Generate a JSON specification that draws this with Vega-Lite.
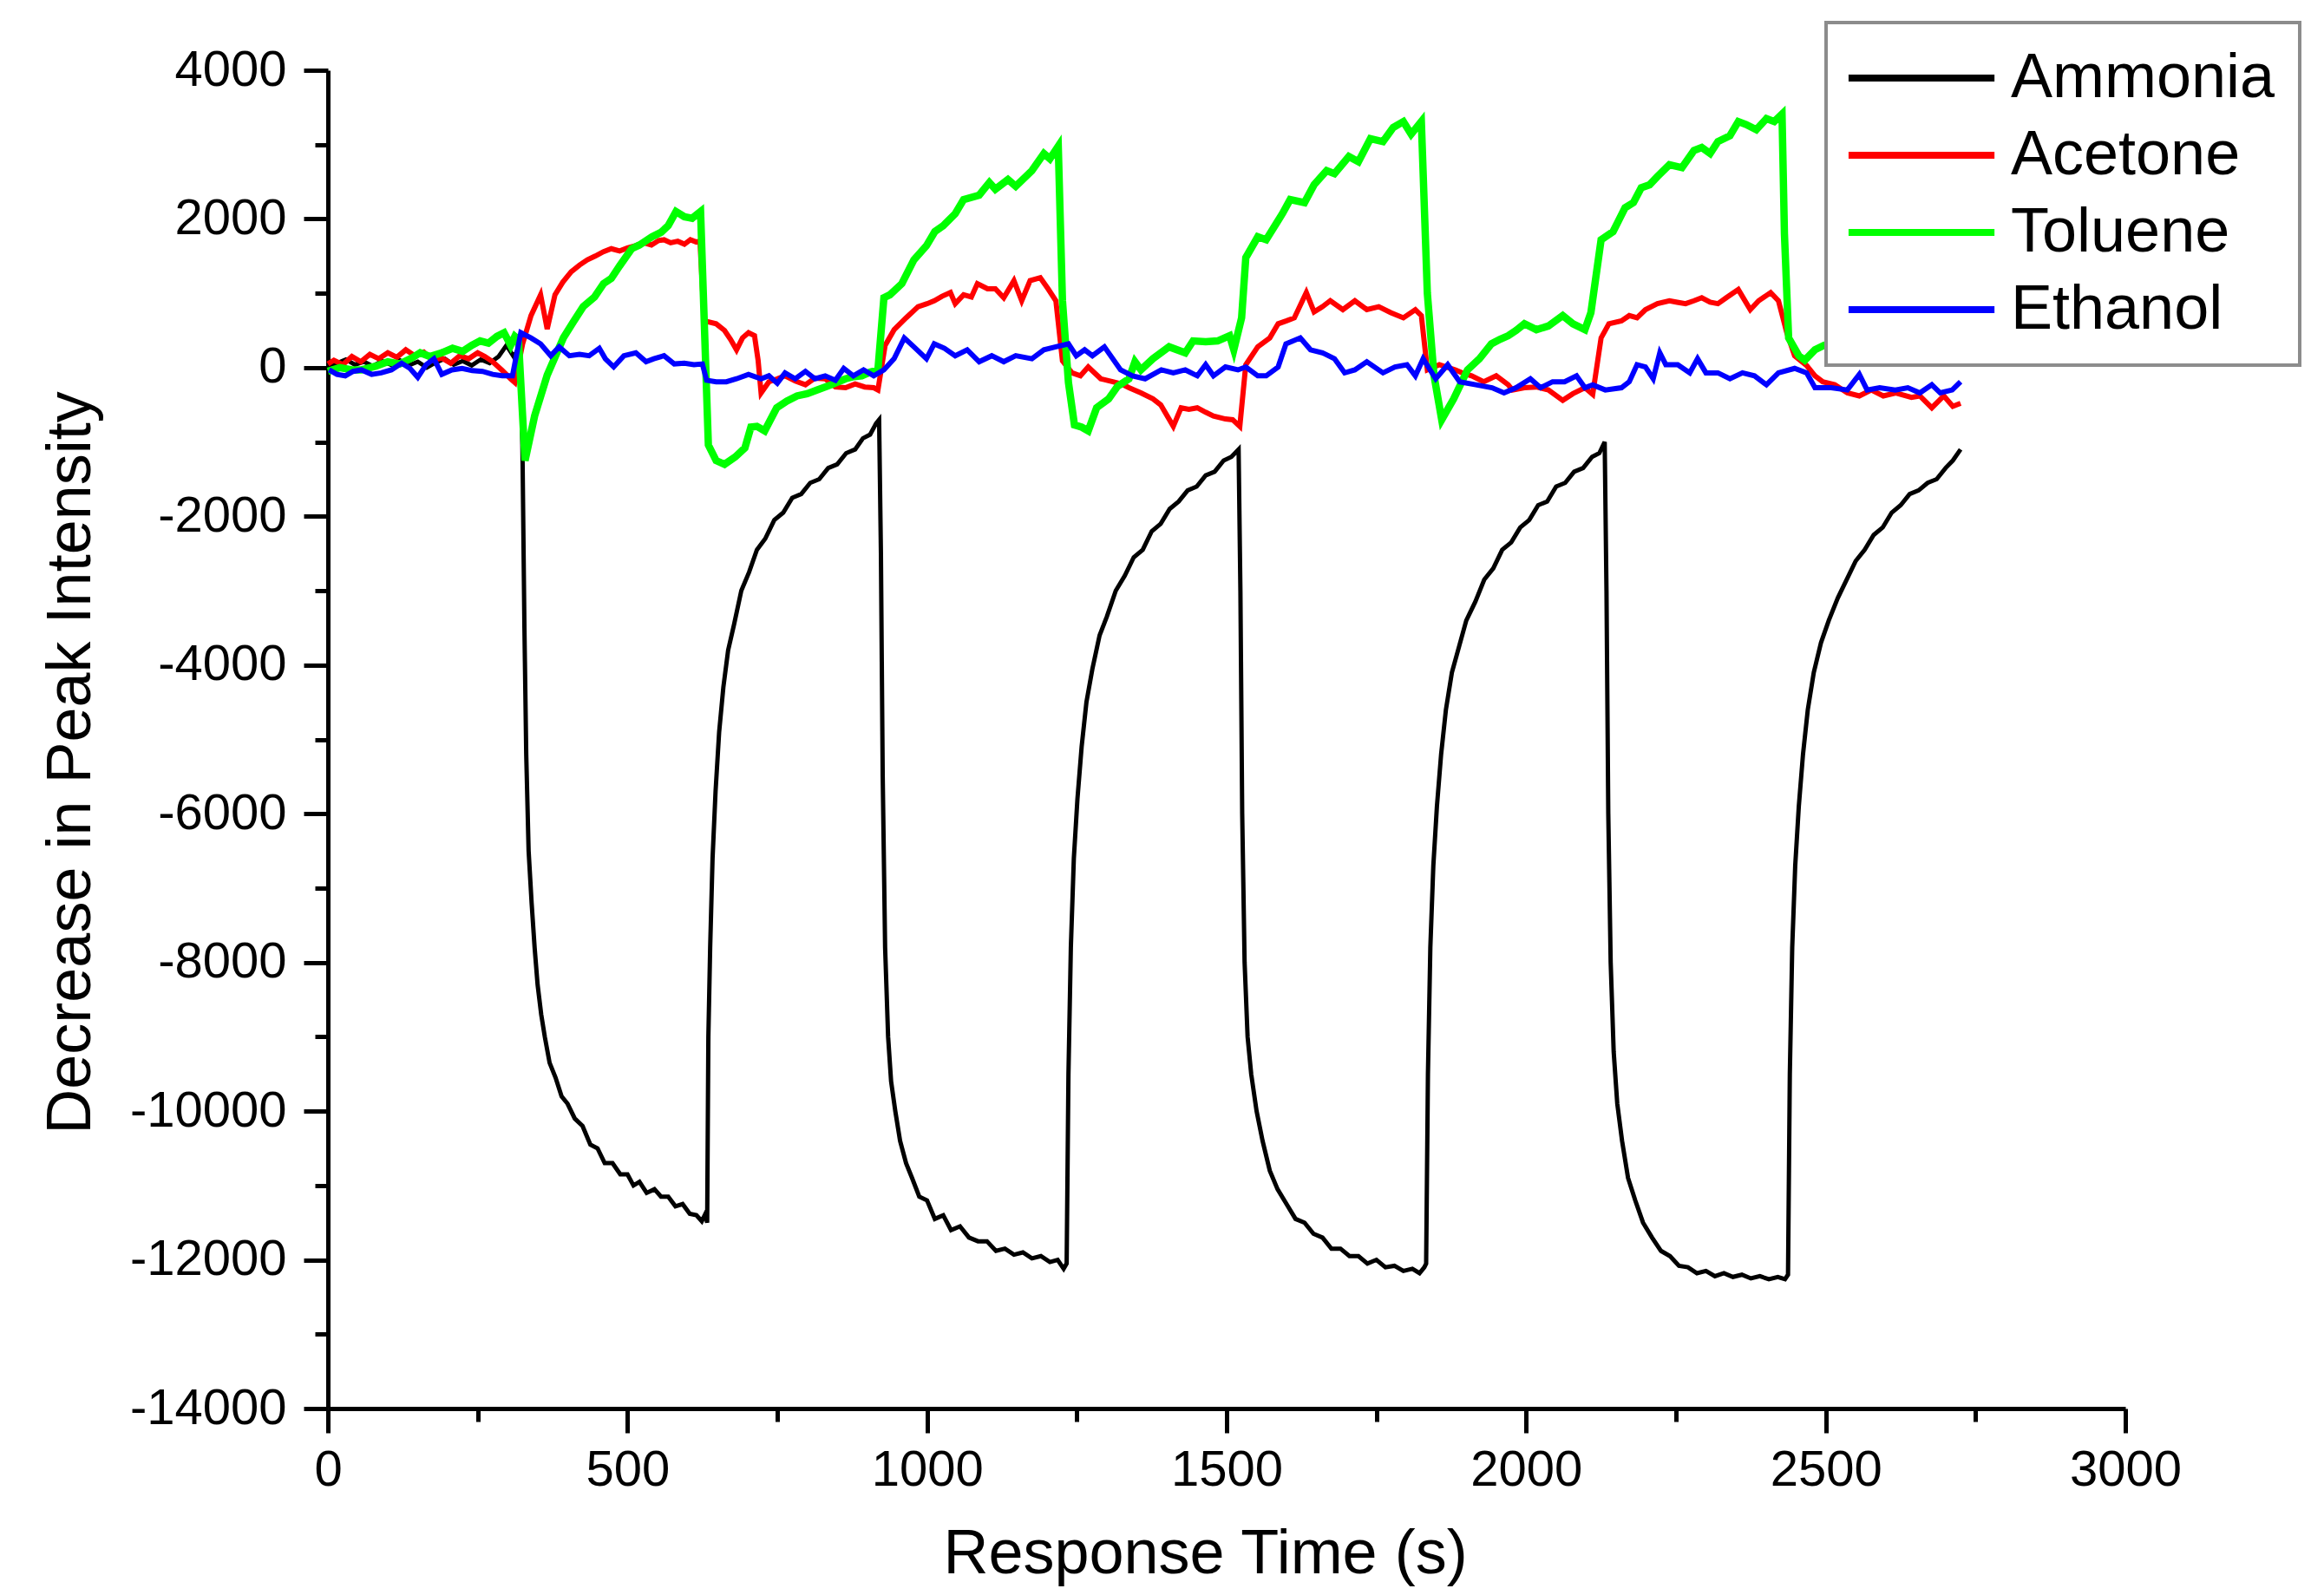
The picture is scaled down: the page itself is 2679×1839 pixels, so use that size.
{
  "$schema": "https://vega.github.io/schema/vega-lite/v6.json",
  "width": 2072,
  "height": 1543,
  "autosize": {"type": "none"},
  "padding": {"left": 378, "top": 81, "right": 229, "bottom": 215},
  "background": "white",
  "config": {
    "view": {"stroke": null},
    "font": "Liberation Sans",
    "axis": {
      "grid": false,
      "domainColor": "black",
      "domainWidth": 5,
      "tickColor": "black",
      "tickWidth": 5,
      "labelFont": "Liberation Sans",
      "labelFontSize": 58,
      "labelColor": "black",
      "labelFlush": false,
      "labelLimit": 0,
      "titleFont": "Liberation Sans",
      "titleFontSize": 72,
      "titleFontWeight": "normal",
      "titleColor": "black"
    },
    "legend": {"strokeWidth": 4}
  },
  "data": {
    "values": [
      {"s":"Ammonia","t":0,"v":30},{"s":"Ammonia","t":15,"v":60},{"s":"Ammonia","t":30,"v":110},{"s":"Ammonia","t":45,"v":40},{"s":"Ammonia","t":60,"v":80},{"s":"Ammonia","t":75,"v":20},{"s":"Ammonia","t":90,"v":90},{"s":"Ammonia","t":105,"v":40},{"s":"Ammonia","t":120,"v":100},{"s":"Ammonia","t":135,"v":30},{"s":"Ammonia","t":150,"v":80},{"s":"Ammonia","t":165,"v":0},{"s":"Ammonia","t":180,"v":70},{"s":"Ammonia","t":195,"v":120},{"s":"Ammonia","t":210,"v":40},{"s":"Ammonia","t":225,"v":90},{"s":"Ammonia","t":240,"v":30},{"s":"Ammonia","t":255,"v":110},{"s":"Ammonia","t":270,"v":60},{"s":"Ammonia","t":285,"v":150},{"s":"Ammonia","t":298,"v":300},{"s":"Ammonia","t":310,"v":150},{"s":"Ammonia","t":318,"v":250},{"s":"Ammonia","t":323,"v":-200},
      {"s":"Ammonia","t":325,"v":-1300},{"s":"Ammonia","t":328,"v":-3500},{"s":"Ammonia","t":331,"v":-5200},{"s":"Ammonia","t":335,"v":-6500},{"s":"Ammonia","t":340,"v":-7200},{"s":"Ammonia","t":345,"v":-7800},{"s":"Ammonia","t":350,"v":-8300},{"s":"Ammonia","t":356,"v":-8700},{"s":"Ammonia","t":362,"v":-9000},{"s":"Ammonia","t":370,"v":-9350},{"s":"Ammonia","t":380,"v":-9550},{"s":"Ammonia","t":390,"v":-9800},{"s":"Ammonia","t":400,"v":-9900},{"s":"Ammonia","t":412,"v":-10100},{"s":"Ammonia","t":425,"v":-10200},{"s":"Ammonia","t":438,"v":-10450},{"s":"Ammonia","t":450,"v":-10500},{"s":"Ammonia","t":462,"v":-10700},{"s":"Ammonia","t":475,"v":-10700},{"s":"Ammonia","t":488,"v":-10850},{"s":"Ammonia","t":500,"v":-10850},{"s":"Ammonia","t":510,"v":-11000},{"s":"Ammonia","t":520,"v":-10950},{"s":"Ammonia","t":532,"v":-11100},{"s":"Ammonia","t":545,"v":-11050},{"s":"Ammonia","t":556,"v":-11150},{"s":"Ammonia","t":568,"v":-11150},{"s":"Ammonia","t":580,"v":-11280},{"s":"Ammonia","t":592,"v":-11250},{"s":"Ammonia","t":604,"v":-11380},{"s":"Ammonia","t":615,"v":-11400},{"s":"Ammonia","t":624,"v":-11480},{"s":"Ammonia","t":630,"v":-11380},{"s":"Ammonia","t":633,"v":-11500},
      {"s":"Ammonia","t":635,"v":-9000},{"s":"Ammonia","t":638,"v":-7800},{"s":"Ammonia","t":642,"v":-6600},{"s":"Ammonia","t":647,"v":-5700},{"s":"Ammonia","t":653,"v":-4900},{"s":"Ammonia","t":660,"v":-4300},{"s":"Ammonia","t":668,"v":-3800},{"s":"Ammonia","t":678,"v":-3450},{"s":"Ammonia","t":690,"v":-3000},{"s":"Ammonia","t":703,"v":-2750},{"s":"Ammonia","t":716,"v":-2450},{"s":"Ammonia","t":730,"v":-2300},{"s":"Ammonia","t":745,"v":-2050},{"s":"Ammonia","t":760,"v":-1950},{"s":"Ammonia","t":775,"v":-1750},{"s":"Ammonia","t":790,"v":-1700},{"s":"Ammonia","t":805,"v":-1550},{"s":"Ammonia","t":820,"v":-1500},{"s":"Ammonia","t":835,"v":-1350},{"s":"Ammonia","t":850,"v":-1300},{"s":"Ammonia","t":865,"v":-1150},{"s":"Ammonia","t":880,"v":-1100},{"s":"Ammonia","t":893,"v":-950},{"s":"Ammonia","t":905,"v":-900},{"s":"Ammonia","t":915,"v":-750},{"s":"Ammonia","t":920,"v":-700},
      {"s":"Ammonia","t":923,"v":-2500},{"s":"Ammonia","t":926,"v":-5500},{"s":"Ammonia","t":930,"v":-7800},{"s":"Ammonia","t":935,"v":-9000},{"s":"Ammonia","t":940,"v":-9600},{"s":"Ammonia","t":947,"v":-10000},{"s":"Ammonia","t":955,"v":-10400},{"s":"Ammonia","t":965,"v":-10700},{"s":"Ammonia","t":975,"v":-10900},{"s":"Ammonia","t":987,"v":-11150},{"s":"Ammonia","t":1000,"v":-11200},{"s":"Ammonia","t":1013,"v":-11450},{"s":"Ammonia","t":1027,"v":-11400},{"s":"Ammonia","t":1040,"v":-11600},{"s":"Ammonia","t":1055,"v":-11550},{"s":"Ammonia","t":1070,"v":-11700},{"s":"Ammonia","t":1085,"v":-11750},{"s":"Ammonia","t":1100,"v":-11750},{"s":"Ammonia","t":1115,"v":-11880},{"s":"Ammonia","t":1130,"v":-11850},{"s":"Ammonia","t":1145,"v":-11930},{"s":"Ammonia","t":1160,"v":-11900},{"s":"Ammonia","t":1175,"v":-11980},{"s":"Ammonia","t":1190,"v":-11950},{"s":"Ammonia","t":1205,"v":-12030},{"s":"Ammonia","t":1218,"v":-12000},{"s":"Ammonia","t":1228,"v":-12120},{"s":"Ammonia","t":1233,"v":-12050},
      {"s":"Ammonia","t":1236,"v":-9500},{"s":"Ammonia","t":1240,"v":-7800},{"s":"Ammonia","t":1245,"v":-6600},{"s":"Ammonia","t":1251,"v":-5800},{"s":"Ammonia","t":1258,"v":-5100},{"s":"Ammonia","t":1266,"v":-4500},{"s":"Ammonia","t":1276,"v":-4050},{"s":"Ammonia","t":1288,"v":-3600},{"s":"Ammonia","t":1300,"v":-3350},{"s":"Ammonia","t":1315,"v":-3000},{"s":"Ammonia","t":1330,"v":-2800},{"s":"Ammonia","t":1345,"v":-2550},{"s":"Ammonia","t":1360,"v":-2450},{"s":"Ammonia","t":1375,"v":-2200},{"s":"Ammonia","t":1390,"v":-2100},{"s":"Ammonia","t":1405,"v":-1900},{"s":"Ammonia","t":1420,"v":-1800},{"s":"Ammonia","t":1435,"v":-1650},{"s":"Ammonia","t":1450,"v":-1600},{"s":"Ammonia","t":1465,"v":-1450},{"s":"Ammonia","t":1480,"v":-1400},{"s":"Ammonia","t":1495,"v":-1250},{"s":"Ammonia","t":1508,"v":-1200},{"s":"Ammonia","t":1520,"v":-1100},
      {"s":"Ammonia","t":1523,"v":-3000},{"s":"Ammonia","t":1526,"v":-6000},{"s":"Ammonia","t":1530,"v":-8000},{"s":"Ammonia","t":1535,"v":-9000},{"s":"Ammonia","t":1541,"v":-9500},{"s":"Ammonia","t":1550,"v":-10000},{"s":"Ammonia","t":1560,"v":-10400},{"s":"Ammonia","t":1572,"v":-10800},{"s":"Ammonia","t":1585,"v":-11050},{"s":"Ammonia","t":1600,"v":-11250},{"s":"Ammonia","t":1615,"v":-11450},{"s":"Ammonia","t":1630,"v":-11500},{"s":"Ammonia","t":1645,"v":-11650},{"s":"Ammonia","t":1660,"v":-11700},{"s":"Ammonia","t":1675,"v":-11850},{"s":"Ammonia","t":1690,"v":-11850},{"s":"Ammonia","t":1705,"v":-11950},{"s":"Ammonia","t":1720,"v":-11950},{"s":"Ammonia","t":1735,"v":-12050},{"s":"Ammonia","t":1750,"v":-12000},{"s":"Ammonia","t":1765,"v":-12100},{"s":"Ammonia","t":1780,"v":-12080},{"s":"Ammonia","t":1795,"v":-12150},{"s":"Ammonia","t":1810,"v":-12120},{"s":"Ammonia","t":1822,"v":-12180},{"s":"Ammonia","t":1830,"v":-12100},{"s":"Ammonia","t":1833,"v":-12050},
      {"s":"Ammonia","t":1836,"v":-9500},{"s":"Ammonia","t":1840,"v":-7800},{"s":"Ammonia","t":1845,"v":-6700},{"s":"Ammonia","t":1851,"v":-5900},{"s":"Ammonia","t":1858,"v":-5200},{"s":"Ammonia","t":1866,"v":-4600},{"s":"Ammonia","t":1876,"v":-4100},{"s":"Ammonia","t":1888,"v":-3750},{"s":"Ammonia","t":1900,"v":-3400},{"s":"Ammonia","t":1915,"v":-3150},{"s":"Ammonia","t":1930,"v":-2850},{"s":"Ammonia","t":1945,"v":-2700},{"s":"Ammonia","t":1960,"v":-2450},{"s":"Ammonia","t":1975,"v":-2350},{"s":"Ammonia","t":1990,"v":-2150},{"s":"Ammonia","t":2005,"v":-2050},{"s":"Ammonia","t":2020,"v":-1850},{"s":"Ammonia","t":2035,"v":-1800},{"s":"Ammonia","t":2050,"v":-1600},{"s":"Ammonia","t":2065,"v":-1550},{"s":"Ammonia","t":2080,"v":-1400},{"s":"Ammonia","t":2095,"v":-1350},{"s":"Ammonia","t":2110,"v":-1200},{"s":"Ammonia","t":2122,"v":-1150},{"s":"Ammonia","t":2131,"v":-1000},
      {"s":"Ammonia","t":2134,"v":-3000},{"s":"Ammonia","t":2137,"v":-6000},{"s":"Ammonia","t":2141,"v":-8000},{"s":"Ammonia","t":2146,"v":-9200},{"s":"Ammonia","t":2152,"v":-9900},{"s":"Ammonia","t":2160,"v":-10400},{"s":"Ammonia","t":2170,"v":-10900},{"s":"Ammonia","t":2182,"v":-11200},{"s":"Ammonia","t":2195,"v":-11500},{"s":"Ammonia","t":2210,"v":-11700},{"s":"Ammonia","t":2225,"v":-11880},{"s":"Ammonia","t":2240,"v":-11950},{"s":"Ammonia","t":2255,"v":-12080},{"s":"Ammonia","t":2270,"v":-12100},{"s":"Ammonia","t":2285,"v":-12180},{"s":"Ammonia","t":2300,"v":-12150},{"s":"Ammonia","t":2315,"v":-12220},{"s":"Ammonia","t":2330,"v":-12180},{"s":"Ammonia","t":2345,"v":-12230},{"s":"Ammonia","t":2360,"v":-12200},{"s":"Ammonia","t":2375,"v":-12250},{"s":"Ammonia","t":2390,"v":-12220},{"s":"Ammonia","t":2405,"v":-12260},{"s":"Ammonia","t":2420,"v":-12230},{"s":"Ammonia","t":2432,"v":-12260},{"s":"Ammonia","t":2437,"v":-12200},
      {"s":"Ammonia","t":2440,"v":-9500},{"s":"Ammonia","t":2444,"v":-7800},{"s":"Ammonia","t":2449,"v":-6700},{"s":"Ammonia","t":2455,"v":-5900},{"s":"Ammonia","t":2462,"v":-5200},{"s":"Ammonia","t":2470,"v":-4600},{"s":"Ammonia","t":2480,"v":-4100},{"s":"Ammonia","t":2492,"v":-3700},{"s":"Ammonia","t":2505,"v":-3400},{"s":"Ammonia","t":2520,"v":-3100},{"s":"Ammonia","t":2535,"v":-2850},{"s":"Ammonia","t":2550,"v":-2600},{"s":"Ammonia","t":2565,"v":-2450},{"s":"Ammonia","t":2580,"v":-2250},{"s":"Ammonia","t":2595,"v":-2150},{"s":"Ammonia","t":2610,"v":-1950},{"s":"Ammonia","t":2625,"v":-1850},{"s":"Ammonia","t":2640,"v":-1700},{"s":"Ammonia","t":2655,"v":-1650},{"s":"Ammonia","t":2670,"v":-1550},{"s":"Ammonia","t":2685,"v":-1500},{"s":"Ammonia","t":2700,"v":-1350},{"s":"Ammonia","t":2712,"v":-1250},{"s":"Ammonia","t":2725,"v":-1100},

      {"s":"Acetone","t":0,"v":50},{"s":"Acetone","t":10,"v":100},{"s":"Acetone","t":25,"v":40},{"s":"Acetone","t":40,"v":150},{"s":"Acetone","t":55,"v":80},{"s":"Acetone","t":70,"v":180},{"s":"Acetone","t":85,"v":120},{"s":"Acetone","t":100,"v":200},{"s":"Acetone","t":115,"v":140},{"s":"Acetone","t":130,"v":240},{"s":"Acetone","t":145,"v":160},{"s":"Acetone","t":160,"v":210},{"s":"Acetone","t":175,"v":100},{"s":"Acetone","t":190,"v":130},{"s":"Acetone","t":205,"v":60},{"s":"Acetone","t":220,"v":160},{"s":"Acetone","t":235,"v":120},{"s":"Acetone","t":250,"v":200},{"s":"Acetone","t":262,"v":150},{"s":"Acetone","t":275,"v":80},{"s":"Acetone","t":290,"v":-30},{"s":"Acetone","t":305,"v":-150},{"s":"Acetone","t":312,"v":-200},
      {"s":"Acetone","t":325,"v":320},{"s":"Acetone","t":339,"v":700},{"s":"Acetone","t":355,"v":980},{"s":"Acetone","t":366,"v":520},{"s":"Acetone","t":379,"v":980},{"s":"Acetone","t":392,"v":1150},{"s":"Acetone","t":406,"v":1290},{"s":"Acetone","t":420,"v":1380},{"s":"Acetone","t":433,"v":1450},{"s":"Acetone","t":446,"v":1500},{"s":"Acetone","t":460,"v":1560},{"s":"Acetone","t":473,"v":1600},{"s":"Acetone","t":487,"v":1570},{"s":"Acetone","t":500,"v":1610},{"s":"Acetone","t":513,"v":1640},{"s":"Acetone","t":527,"v":1680},{"s":"Acetone","t":540,"v":1650},{"s":"Acetone","t":552,"v":1710},{"s":"Acetone","t":561,"v":1720},{"s":"Acetone","t":572,"v":1680},{"s":"Acetone","t":584,"v":1700},{"s":"Acetone","t":595,"v":1660},{"s":"Acetone","t":605,"v":1720},{"s":"Acetone","t":615,"v":1690},{"s":"Acetone","t":621,"v":1700},
      {"s":"Acetone","t":628,"v":630},{"s":"Acetone","t":648,"v":590},{"s":"Acetone","t":662,"v":500},{"s":"Acetone","t":672,"v":380},{"s":"Acetone","t":682,"v":240},{"s":"Acetone","t":692,"v":400},{"s":"Acetone","t":702,"v":470},{"s":"Acetone","t":712,"v":430},{"s":"Acetone","t":718,"v":100},{"s":"Acetone","t":723,"v":-340},{"s":"Acetone","t":736,"v":-190},{"s":"Acetone","t":750,"v":-150},{"s":"Acetone","t":763,"v":-110},{"s":"Acetone","t":780,"v":-180},{"s":"Acetone","t":797,"v":-230},{"s":"Acetone","t":813,"v":-140},{"s":"Acetone","t":830,"v":-150},{"s":"Acetone","t":847,"v":-260},{"s":"Acetone","t":864,"v":-270},{"s":"Acetone","t":880,"v":-220},{"s":"Acetone","t":896,"v":-260},{"s":"Acetone","t":911,"v":-270},{"s":"Acetone","t":918,"v":-300},
      {"s":"Acetone","t":930,"v":300},{"s":"Acetone","t":945,"v":510},{"s":"Acetone","t":965,"v":670},{"s":"Acetone","t":985,"v":820},{"s":"Acetone","t":1000,"v":860},{"s":"Acetone","t":1012,"v":900},{"s":"Acetone","t":1025,"v":960},{"s":"Acetone","t":1039,"v":1010},{"s":"Acetone","t":1047,"v":860},{"s":"Acetone","t":1061,"v":980},{"s":"Acetone","t":1074,"v":950},{"s":"Acetone","t":1084,"v":1130},{"s":"Acetone","t":1101,"v":1060},{"s":"Acetone","t":1114,"v":1060},{"s":"Acetone","t":1128,"v":940},{"s":"Acetone","t":1145,"v":1170},{"s":"Acetone","t":1158,"v":900},{"s":"Acetone","t":1172,"v":1170},{"s":"Acetone","t":1189,"v":1210},{"s":"Acetone","t":1202,"v":1060},{"s":"Acetone","t":1215,"v":900},
      {"s":"Acetone","t":1226,"v":90},{"s":"Acetone","t":1242,"v":-70},{"s":"Acetone","t":1256,"v":-110},{"s":"Acetone","t":1269,"v":10},{"s":"Acetone","t":1290,"v":-150},{"s":"Acetone","t":1310,"v":-190},{"s":"Acetone","t":1325,"v":-220},{"s":"Acetone","t":1337,"v":-270},{"s":"Acetone","t":1357,"v":-340},{"s":"Acetone","t":1377,"v":-420},{"s":"Acetone","t":1390,"v":-500},{"s":"Acetone","t":1411,"v":-790},{"s":"Acetone","t":1424,"v":-540},{"s":"Acetone","t":1437,"v":-560},{"s":"Acetone","t":1451,"v":-540},{"s":"Acetone","t":1465,"v":-600},{"s":"Acetone","t":1478,"v":-650},{"s":"Acetone","t":1498,"v":-690},{"s":"Acetone","t":1510,"v":-700},{"s":"Acetone","t":1522,"v":-790},
      {"s":"Acetone","t":1532,"v":40},{"s":"Acetone","t":1552,"v":280},{"s":"Acetone","t":1572,"v":400},{"s":"Acetone","t":1586,"v":590},{"s":"Acetone","t":1600,"v":630},{"s":"Acetone","t":1613,"v":670},{"s":"Acetone","t":1633,"v":1010},{"s":"Acetone","t":1646,"v":750},{"s":"Acetone","t":1660,"v":820},{"s":"Acetone","t":1673,"v":900},{"s":"Acetone","t":1694,"v":780},{"s":"Acetone","t":1714,"v":900},{"s":"Acetone","t":1734,"v":780},{"s":"Acetone","t":1754,"v":820},{"s":"Acetone","t":1774,"v":740},{"s":"Acetone","t":1795,"v":670},{"s":"Acetone","t":1815,"v":780},{"s":"Acetone","t":1825,"v":700},
      {"s":"Acetone","t":1835,"v":-30},{"s":"Acetone","t":1855,"v":40},{"s":"Acetone","t":1870,"v":0},{"s":"Acetone","t":1882,"v":-30},{"s":"Acetone","t":1896,"v":-80},{"s":"Acetone","t":1909,"v":-110},{"s":"Acetone","t":1929,"v":-190},{"s":"Acetone","t":1950,"v":-110},{"s":"Acetone","t":1970,"v":-230},{"s":"Acetone","t":1977,"v":-300},{"s":"Acetone","t":1997,"v":-270},{"s":"Acetone","t":2017,"v":-260},{"s":"Acetone","t":2037,"v":-300},{"s":"Acetone","t":2061,"v":-440},{"s":"Acetone","t":2078,"v":-350},{"s":"Acetone","t":2098,"v":-270},{"s":"Acetone","t":2111,"v":-360},
      {"s":"Acetone","t":2125,"v":400},{"s":"Acetone","t":2138,"v":590},{"s":"Acetone","t":2159,"v":630},{"s":"Acetone","t":2172,"v":700},{"s":"Acetone","t":2185,"v":670},{"s":"Acetone","t":2199,"v":780},{"s":"Acetone","t":2219,"v":860},{"s":"Acetone","t":2239,"v":900},{"s":"Acetone","t":2252,"v":880},{"s":"Acetone","t":2266,"v":860},{"s":"Acetone","t":2280,"v":900},{"s":"Acetone","t":2293,"v":940},{"s":"Acetone","t":2307,"v":880},{"s":"Acetone","t":2320,"v":860},{"s":"Acetone","t":2334,"v":940},{"s":"Acetone","t":2354,"v":1050},{"s":"Acetone","t":2374,"v":780},{"s":"Acetone","t":2388,"v":900},{"s":"Acetone","t":2408,"v":1010},{"s":"Acetone","t":2421,"v":900},
      {"s":"Acetone","t":2435,"v":470},{"s":"Acetone","t":2448,"v":160},{"s":"Acetone","t":2468,"v":30},{"s":"Acetone","t":2482,"v":-110},{"s":"Acetone","t":2495,"v":-190},{"s":"Acetone","t":2515,"v":-230},{"s":"Acetone","t":2536,"v":-340},{"s":"Acetone","t":2556,"v":-380},{"s":"Acetone","t":2576,"v":-300},{"s":"Acetone","t":2596,"v":-380},{"s":"Acetone","t":2617,"v":-340},{"s":"Acetone","t":2643,"v":-400},{"s":"Acetone","t":2657,"v":-380},{"s":"Acetone","t":2677,"v":-540},{"s":"Acetone","t":2697,"v":-380},{"s":"Acetone","t":2712,"v":-520},{"s":"Acetone","t":2725,"v":-480},

      {"s":"Toluene","t":0,"v":-50},{"s":"Toluene","t":20,"v":0},{"s":"Toluene","t":40,"v":-30},{"s":"Toluene","t":56,"v":-30},{"s":"Toluene","t":80,"v":20},{"s":"Toluene","t":100,"v":80},{"s":"Toluene","t":120,"v":50},{"s":"Toluene","t":140,"v":130},{"s":"Toluene","t":154,"v":200},{"s":"Toluene","t":170,"v":150},{"s":"Toluene","t":190,"v":200},{"s":"Toluene","t":208,"v":260},{"s":"Toluene","t":225,"v":220},{"s":"Toluene","t":240,"v":300},{"s":"Toluene","t":254,"v":360},{"s":"Toluene","t":268,"v":330},{"s":"Toluene","t":282,"v":420},{"s":"Toluene","t":294,"v":470},{"s":"Toluene","t":305,"v":300},{"s":"Toluene","t":312,"v":420},{"s":"Toluene","t":318,"v":380},
      {"s":"Toluene","t":329,"v":-1250},{"s":"Toluene","t":345,"v":-650},{"s":"Toluene","t":366,"v":-100},{"s":"Toluene","t":393,"v":400},{"s":"Toluene","t":410,"v":620},{"s":"Toluene","t":426,"v":820},{"s":"Toluene","t":445,"v":950},{"s":"Toluene","t":460,"v":1130},{"s":"Toluene","t":473,"v":1200},{"s":"Toluene","t":487,"v":1370},{"s":"Toluene","t":507,"v":1600},{"s":"Toluene","t":520,"v":1650},{"s":"Toluene","t":541,"v":1760},{"s":"Toluene","t":556,"v":1820},{"s":"Toluene","t":568,"v":1910},{"s":"Toluene","t":581,"v":2100},{"s":"Toluene","t":595,"v":2030},{"s":"Toluene","t":608,"v":2010},{"s":"Toluene","t":622,"v":2100},
      {"s":"Toluene","t":635,"v":-1040},{"s":"Toluene","t":648,"v":-1250},{"s":"Toluene","t":662,"v":-1300},{"s":"Toluene","t":680,"v":-1200},{"s":"Toluene","t":696,"v":-1080},{"s":"Toluene","t":706,"v":-800},{"s":"Toluene","t":716,"v":-790},{"s":"Toluene","t":729,"v":-850},{"s":"Toluene","t":749,"v":-540},{"s":"Toluene","t":766,"v":-450},{"s":"Toluene","t":783,"v":-380},{"s":"Toluene","t":800,"v":-350},{"s":"Toluene","t":817,"v":-300},{"s":"Toluene","t":840,"v":-230},{"s":"Toluene","t":864,"v":-150},{"s":"Toluene","t":878,"v":-120},{"s":"Toluene","t":891,"v":-110},{"s":"Toluene","t":905,"v":-60},{"s":"Toluene","t":918,"v":-30},
      {"s":"Toluene","t":928,"v":940},{"s":"Toluene","t":938,"v":980},{"s":"Toluene","t":958,"v":1130},{"s":"Toluene","t":978,"v":1450},{"s":"Toluene","t":999,"v":1640},{"s":"Toluene","t":1013,"v":1830},{"s":"Toluene","t":1027,"v":1910},{"s":"Toluene","t":1047,"v":2070},{"s":"Toluene","t":1061,"v":2260},{"s":"Toluene","t":1087,"v":2320},{"s":"Toluene","t":1104,"v":2490},{"s":"Toluene","t":1114,"v":2400},{"s":"Toluene","t":1135,"v":2530},{"s":"Toluene","t":1148,"v":2440},{"s":"Toluene","t":1175,"v":2650},{"s":"Toluene","t":1195,"v":2880},{"s":"Toluene","t":1205,"v":2810},{"s":"Toluene","t":1219,"v":2980},
      {"s":"Toluene","t":1226,"v":900},{"s":"Toluene","t":1236,"v":-200},{"s":"Toluene","t":1246,"v":-770},{"s":"Toluene","t":1258,"v":-800},{"s":"Toluene","t":1269,"v":-850},{"s":"Toluene","t":1283,"v":-540},{"s":"Toluene","t":1303,"v":-420},{"s":"Toluene","t":1318,"v":-250},{"s":"Toluene","t":1337,"v":-150},{"s":"Toluene","t":1347,"v":80},{"s":"Toluene","t":1357,"v":-30},{"s":"Toluene","t":1377,"v":120},{"s":"Toluene","t":1404,"v":280},{"s":"Toluene","t":1431,"v":200},{"s":"Toluene","t":1444,"v":360},{"s":"Toluene","t":1465,"v":350},{"s":"Toluene","t":1485,"v":360},{"s":"Toluene","t":1505,"v":430},{"s":"Toluene","t":1512,"v":240},{"s":"Toluene","t":1525,"v":670},
      {"s":"Toluene","t":1532,"v":1480},{"s":"Toluene","t":1552,"v":1760},{"s":"Toluene","t":1566,"v":1720},{"s":"Toluene","t":1593,"v":2070},{"s":"Toluene","t":1606,"v":2260},{"s":"Toluene","t":1630,"v":2220},{"s":"Toluene","t":1646,"v":2460},{"s":"Toluene","t":1667,"v":2650},{"s":"Toluene","t":1680,"v":2610},{"s":"Toluene","t":1704,"v":2840},{"s":"Toluene","t":1720,"v":2770},{"s":"Toluene","t":1740,"v":3080},{"s":"Toluene","t":1761,"v":3040},{"s":"Toluene","t":1778,"v":3230},{"s":"Toluene","t":1795,"v":3310},{"s":"Toluene","t":1808,"v":3140},{"s":"Toluene","t":1825,"v":3310},
      {"s":"Toluene","t":1835,"v":1000},{"s":"Toluene","t":1846,"v":-100},{"s":"Toluene","t":1859,"v":-700},{"s":"Toluene","t":1879,"v":-420},{"s":"Toluene","t":1902,"v":-30},{"s":"Toluene","t":1922,"v":120},{"s":"Toluene","t":1942,"v":320},{"s":"Toluene","t":1956,"v":380},{"s":"Toluene","t":1970,"v":430},{"s":"Toluene","t":1983,"v":500},{"s":"Toluene","t":1997,"v":590},{"s":"Toluene","t":2017,"v":510},{"s":"Toluene","t":2037,"v":560},{"s":"Toluene","t":2061,"v":700},{"s":"Toluene","t":2078,"v":590},{"s":"Toluene","t":2098,"v":510},{"s":"Toluene","t":2108,"v":740},
      {"s":"Toluene","t":2125,"v":1720},{"s":"Toluene","t":2145,"v":1830},{"s":"Toluene","t":2165,"v":2150},{"s":"Toluene","t":2179,"v":2220},{"s":"Toluene","t":2192,"v":2420},{"s":"Toluene","t":2206,"v":2460},{"s":"Toluene","t":2219,"v":2570},{"s":"Toluene","t":2239,"v":2730},{"s":"Toluene","t":2260,"v":2690},{"s":"Toluene","t":2280,"v":2920},{"s":"Toluene","t":2293,"v":2960},{"s":"Toluene","t":2307,"v":2880},{"s":"Toluene","t":2320,"v":3040},{"s":"Toluene","t":2340,"v":3120},{"s":"Toluene","t":2354,"v":3310},{"s":"Toluene","t":2367,"v":3270},{"s":"Toluene","t":2384,"v":3200},{"s":"Toluene","t":2401,"v":3350},{"s":"Toluene","t":2414,"v":3310},{"s":"Toluene","t":2427,"v":3410},
      {"s":"Toluene","t":2431,"v":1800},{"s":"Toluene","t":2438,"v":400},{"s":"Toluene","t":2455,"v":160},{"s":"Toluene","t":2465,"v":100},{"s":"Toluene","t":2482,"v":240},{"s":"Toluene","t":2502,"v":320},{"s":"Toluene","t":2515,"v":470},{"s":"Toluene","t":2540,"v":600},{"s":"Toluene","t":2570,"v":700},{"s":"Toluene","t":2600,"v":760},{"s":"Toluene","t":2640,"v":820},{"s":"Toluene","t":2680,"v":880},{"s":"Toluene","t":2725,"v":950},

      {"s":"Ethanol","t":2,"v":-30},{"s":"Ethanol","t":15,"v":-90},{"s":"Ethanol","t":29,"v":-110},{"s":"Ethanol","t":42,"v":-50},{"s":"Ethanol","t":56,"v":-30},{"s":"Ethanol","t":73,"v":-90},{"s":"Ethanol","t":89,"v":-70},{"s":"Ethanol","t":106,"v":-30},{"s":"Ethanol","t":123,"v":60},{"s":"Ethanol","t":137,"v":-10},{"s":"Ethanol","t":150,"v":-130},{"s":"Ethanol","t":164,"v":40},{"s":"Ethanol","t":177,"v":120},{"s":"Ethanol","t":190,"v":-90},{"s":"Ethanol","t":207,"v":-30},{"s":"Ethanol","t":224,"v":-10},{"s":"Ethanol","t":241,"v":-40},{"s":"Ethanol","t":258,"v":-50},{"s":"Ethanol","t":275,"v":-90},{"s":"Ethanol","t":291,"v":-110},{"s":"Ethanol","t":308,"v":-110},
      {"s":"Ethanol","t":322,"v":470},{"s":"Ethanol","t":339,"v":400},{"s":"Ethanol","t":355,"v":320},{"s":"Ethanol","t":372,"v":160},{"s":"Ethanol","t":386,"v":280},{"s":"Ethanol","t":403,"v":160},{"s":"Ethanol","t":420,"v":180},{"s":"Ethanol","t":436,"v":160},{"s":"Ethanol","t":453,"v":260},{"s":"Ethanol","t":463,"v":120},{"s":"Ethanol","t":477,"v":10},{"s":"Ethanol","t":494,"v":160},{"s":"Ethanol","t":514,"v":200},{"s":"Ethanol","t":531,"v":80},{"s":"Ethanol","t":544,"v":120},{"s":"Ethanol","t":561,"v":160},{"s":"Ethanol","t":578,"v":50},{"s":"Ethanol","t":595,"v":60},{"s":"Ethanol","t":611,"v":40},{"s":"Ethanol","t":625,"v":50},
      {"s":"Ethanol","t":632,"v":-170},{"s":"Ethanol","t":648,"v":-190},{"s":"Ethanol","t":665,"v":-190},{"s":"Ethanol","t":682,"v":-150},{"s":"Ethanol","t":702,"v":-90},{"s":"Ethanol","t":723,"v":-150},{"s":"Ethanol","t":736,"v":-110},{"s":"Ethanol","t":750,"v":-210},{"s":"Ethanol","t":763,"v":-70},{"s":"Ethanol","t":780,"v":-150},{"s":"Ethanol","t":797,"v":-50},{"s":"Ethanol","t":813,"v":-150},{"s":"Ethanol","t":830,"v":-110},{"s":"Ethanol","t":847,"v":-170},{"s":"Ethanol","t":861,"v":-10},{"s":"Ethanol","t":877,"v":-110},{"s":"Ethanol","t":894,"v":-30},{"s":"Ethanol","t":911,"v":-110},{"s":"Ethanol","t":928,"v":-30},{"s":"Ethanol","t":945,"v":120},
      {"s":"Ethanol","t":962,"v":400},{"s":"Ethanol","t":978,"v":280},{"s":"Ethanol","t":999,"v":120},{"s":"Ethanol","t":1012,"v":320},{"s":"Ethanol","t":1029,"v":260},{"s":"Ethanol","t":1047,"v":160},{"s":"Ethanol","t":1067,"v":240},{"s":"Ethanol","t":1087,"v":80},{"s":"Ethanol","t":1108,"v":160},{"s":"Ethanol","t":1128,"v":80},{"s":"Ethanol","t":1148,"v":160},{"s":"Ethanol","t":1175,"v":120},{"s":"Ethanol","t":1195,"v":240},{"s":"Ethanol","t":1215,"v":280},{"s":"Ethanol","t":1236,"v":320},{"s":"Ethanol","t":1249,"v":160},{"s":"Ethanol","t":1263,"v":240},{"s":"Ethanol","t":1276,"v":160},{"s":"Ethanol","t":1296,"v":280},
      {"s":"Ethanol","t":1323,"v":-30},{"s":"Ethanol","t":1343,"v":-110},{"s":"Ethanol","t":1364,"v":-150},{"s":"Ethanol","t":1391,"v":-30},{"s":"Ethanol","t":1411,"v":-70},{"s":"Ethanol","t":1431,"v":-30},{"s":"Ethanol","t":1451,"v":-110},{"s":"Ethanol","t":1465,"v":40},{"s":"Ethanol","t":1478,"v":-110},{"s":"Ethanol","t":1498,"v":10},{"s":"Ethanol","t":1519,"v":-30},{"s":"Ethanol","t":1532,"v":10},{"s":"Ethanol","t":1552,"v":-110},{"s":"Ethanol","t":1566,"v":-110},{"s":"Ethanol","t":1586,"v":10},
      {"s":"Ethanol","t":1599,"v":320},{"s":"Ethanol","t":1623,"v":400},{"s":"Ethanol","t":1640,"v":240},{"s":"Ethanol","t":1660,"v":200},{"s":"Ethanol","t":1680,"v":120},{"s":"Ethanol","t":1697,"v":-70},{"s":"Ethanol","t":1714,"v":-30},{"s":"Ethanol","t":1734,"v":80},{"s":"Ethanol","t":1761,"v":-70},{"s":"Ethanol","t":1781,"v":10},{"s":"Ethanol","t":1801,"v":40},{"s":"Ethanol","t":1815,"v":-110},{"s":"Ethanol","t":1828,"v":120},{"s":"Ethanol","t":1849,"v":-150},{"s":"Ethanol","t":1869,"v":40},{"s":"Ethanol","t":1889,"v":-190},{"s":"Ethanol","t":1916,"v":-230},{"s":"Ethanol","t":1943,"v":-270},
      {"s":"Ethanol","t":1963,"v":-340},{"s":"Ethanol","t":1983,"v":-270},{"s":"Ethanol","t":2007,"v":-150},{"s":"Ethanol","t":2024,"v":-270},{"s":"Ethanol","t":2044,"v":-190},{"s":"Ethanol","t":2064,"v":-190},{"s":"Ethanol","t":2084,"v":-110},{"s":"Ethanol","t":2098,"v":-270},{"s":"Ethanol","t":2111,"v":-230},{"s":"Ethanol","t":2132,"v":-300},{"s":"Ethanol","t":2159,"v":-270},{"s":"Ethanol","t":2172,"v":-190},{"s":"Ethanol","t":2185,"v":40},{"s":"Ethanol","t":2199,"v":10},{"s":"Ethanol","t":2212,"v":-150},{"s":"Ethanol","t":2223,"v":200},{"s":"Ethanol","t":2233,"v":40},{"s":"Ethanol","t":2253,"v":40},{"s":"Ethanol","t":2273,"v":-70},{"s":"Ethanol","t":2286,"v":120},{"s":"Ethanol","t":2300,"v":-70},{"s":"Ethanol","t":2320,"v":-70},{"s":"Ethanol","t":2340,"v":-150},{"s":"Ethanol","t":2361,"v":-70},{"s":"Ethanol","t":2381,"v":-110},{"s":"Ethanol","t":2401,"v":-230},{"s":"Ethanol","t":2421,"v":-70},{"s":"Ethanol","t":2448,"v":-10},{"s":"Ethanol","t":2468,"v":-70},{"s":"Ethanol","t":2482,"v":-270},{"s":"Ethanol","t":2509,"v":-270},{"s":"Ethanol","t":2536,"v":-300},{"s":"Ethanol","t":2556,"v":-90},{"s":"Ethanol","t":2569,"v":-300},{"s":"Ethanol","t":2590,"v":-270},{"s":"Ethanol","t":2616,"v":-300},{"s":"Ethanol","t":2637,"v":-270},{"s":"Ethanol","t":2657,"v":-340},{"s":"Ethanol","t":2677,"v":-230},{"s":"Ethanol","t":2691,"v":-340},{"s":"Ethanol","t":2711,"v":-300},{"s":"Ethanol","t":2725,"v":-190}
    ]
  },
  "layer": [
    {
      "encoding": {
        "x": {
          "field": "t",
          "type": "quantitative",
          "scale": {"domain": [0, 3000], "nice": false, "zero": false},
          "axis": {
            "orient": "bottom",
            "values": [0, 500, 1000, 1500, 2000, 2500, 3000],
            "tickSize": 28,
            "labelPadding": 14,
            "labelExpr": "'' + datum.value",
            "title": "Response Time (s)",
            "titleX": 1011,
            "titleY": 167,
            "titleBaseline": "middle"
          }
        },
        "y": {
          "field": "v",
          "type": "quantitative",
          "scale": {"domain": [-14000, 4000], "nice": false, "zero": false},
          "axis": {
            "orient": "left",
            "values": [-14000, -12000, -10000, -8000, -6000, -4000, -2000, 0, 2000, 4000],
            "tickSize": 28,
            "labelPadding": 20,
            "labelExpr": "'' + datum.value",
            "title": "Decrease in Peak Intensity",
            "titleX": -297,
            "titleY": 798,
            "titleBaseline": "middle",
            "titleAlign": "center"
          }
        },
        "color": {
          "field": "s",
          "type": "nominal",
          "scale": {
            "domain": ["Ammonia", "Acetone", "Toluene", "Ethanol"],
            "range": ["#000000", "#ff0000", "#00ff00", "#0000ff"]
          },
          "legend": {
            "orient": "none",
            "legendX": 1727,
            "legendY": -55,
            "title": null,
            "direction": "vertical",
            "fillColor": "white",
            "strokeColor": "#8c8c8c",
            "padding": 28,
            "symbolType": "M-1.41,0H4.82",
            "symbolSize": 2916,
            "symbolStrokeWidth": 8,
            "labelFont": "Liberation Sans",
            "labelFontSize": 72,
            "labelColor": "black",
            "labelOffset": 113,
            "labelLimit": 0,
            "rowPadding": 17,
            "encode": {"symbols": {"update": {"strokeWidth": {"value": 8}}}}
          }
        }
      },
      "layer": [
        {
          "transform": [{"filter": "datum.s == 'Ammonia'"}],
          "mark": {"type": "line", "strokeWidth": 5}
        },
        {
          "transform": [{"filter": "datum.s == 'Acetone'"}],
          "mark": {"type": "line", "strokeWidth": 6}
        },
        {
          "transform": [{"filter": "datum.s == 'Toluene'"}],
          "mark": {"type": "line", "strokeWidth": 8.5}
        },
        {
          "transform": [{"filter": "datum.s == 'Ethanol'"}],
          "mark": {"type": "line", "strokeWidth": 6}
        }
      ]
    },
    {
      "mark": {"type": "point", "opacity": 0},
      "encoding": {
        "x": {
          "field": "t",
          "type": "quantitative",
          "axis": {
            "orient": "bottom",
            "values": [250, 750, 1250, 1750, 2250, 2750],
            "tickSize": 15,
            "labels": false,
            "domain": false,
            "title": null
          }
        },
        "y": {
          "field": "v",
          "type": "quantitative",
          "axis": {
            "orient": "left",
            "values": [-13000, -11000, -9000, -7000, -5000, -3000, -1000, 1000, 3000],
            "tickSize": 15,
            "labels": false,
            "domain": false,
            "title": null
          }
        }
      }
    }
  ],
  "resolve": {"axis": {"x": "independent", "y": "independent"}}
}
